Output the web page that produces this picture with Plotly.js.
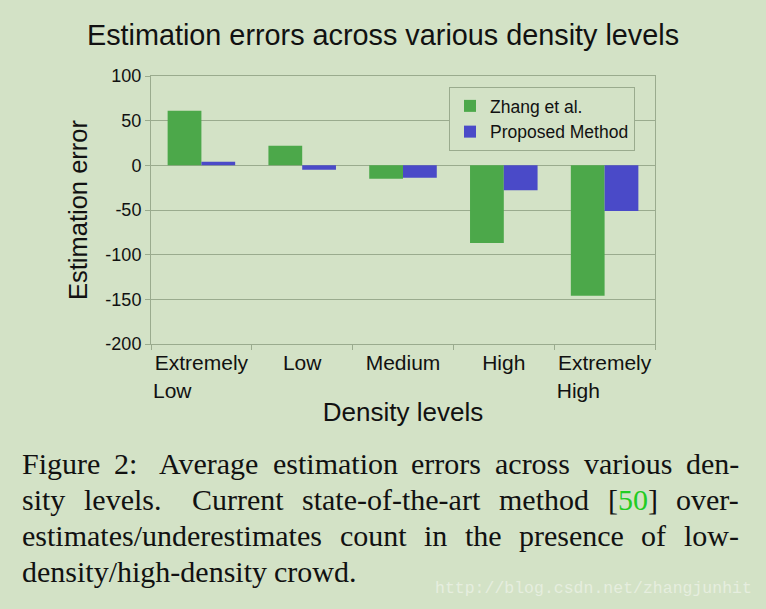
<!DOCTYPE html>
<html>
<head>
<meta charset="utf-8">
<script src="https://cdn.plot.ly/plotly-3.0.1.min.js"></script>
<style>
html,body{margin:0;padding:0;background:#d3e2c6;}
#chart{width:766px;height:609px;}
</style>
</head>
<body>
<div id="chart"></div>
<script>
const categories = ["Extremely<br>Low\u00a0\u00a0\u00a0\u00a0\u00a0\u00a0\u00a0\u00a0\u00a0\u00a0", "Low", "Medium", "High", "Extremely<br>High\u00a0\u00a0\u00a0\u00a0\u00a0\u00a0\u00a0\u00a0\u00a0"];
const seriesNames = ["Zhang et al.", "Proposed Method"];
const zhangValues = [61, 22, -15, -87, -146];
const proposedValues = [4, -5, -14, -28, -51];
const yTicks = [-200, -150, -100, -50, 0, 50, 100];
const captionLines = [
  ["Figure", "2:", "Average", "estimation", "errors", "across", "various", "den-"],
  ["sity", "levels.", "Current", "state-of-the-art", "method", "[50]", "over-"],
  ["estimates/underestimates", "count", "in", "the", "presence", "of", "low-"],
  ["density/high-density", "crowd."]
];
const captionJustify = [true, true, true, false];
const captionY = [463, 499, 535, 571];

const sans = "Liberation Sans, Arial, sans-serif";
const serif = "Liberation Serif, Times New Roman, serif";
const capSize = 30;
const grid = "#9aab8e";

const traces = [
  {type: "bar", name: seriesNames[0], x: categories, y: zhangValues, marker: {color: "#4ca84a", line: {width: 0}}},
  {type: "bar", name: seriesNames[1], x: categories, y: proposedValues, marker: {color: "#4a4ac8", line: {width: 0}}}
];

// layout helper: justify caption words between left and right margins
const ctx = document.createElement("canvas").getContext("2d");
ctx.font = capSize + "px 'Liberation Serif'";
const leftX = 20, rightX = 737;
const annotations = [];
captionLines.forEach((words, i) => {
  const widths = words.map(w => ctx.measureText(w).width);
  const total = widths.reduce((a, b) => a + b, 0);
  const weights = words.slice(0, -1).map(w => /[:.]$/.test(w) ? 1.6 : 1);
  const wsum = weights.reduce((a, b) => a + b, 0);
  const unit = captionJustify[i] ? (rightX - leftX - total) / wsum : capSize * 0.25;
  let x = leftX;
  words.forEach((w, j) => {
    const txt = w === "[50]" ? "[<span style='color:#22cc22'>50</span>]" : w;
    annotations.push({
      text: txt, xref: "paper", yref: "paper", showarrow: false,
      x: (x - 151) / (655 - 151),
      y: (609 - 265 - captionY[i]) / (609 - 76 - 265),
      xanchor: "left", yanchor: "middle",
      font: {family: serif, size: capSize, color: "#111"}
    });
    x += widths[j] + (j < weights.length ? unit * weights[j] : 0);
  });
});
annotations.push({
  text: "http://blog.csdn.net/zhangjunhit", xref: "paper", yref: "paper", showarrow: false,
  x: (754 - 151) / (655 - 151), y: (609 - 265 - 588) / (609 - 76 - 265),
  xanchor: "right", yanchor: "middle",
  font: {family: "Liberation Mono, DejaVu Sans Mono, monospace", size: 16.5, color: "#e6eedf"}
});

const layout = {
  width: 766, height: 609,
  paper_bgcolor: "#d3e2c6", plot_bgcolor: "#d3e2c6",
  margin: {l: 151, r: 111, t: 76, b: 265, pad: 0},
  title: {text: "Estimation errors across various density levels", x: 0.5, xanchor: "center", y: 1 - 35/609, yanchor: "middle",
          font: {family: sans, size: 28.8, color: "#111"}},
  barmode: "group", bargap: 0.33, bargroupgap: 0,
  xaxis: {
    type: "category", tickson: "boundaries", ticks: "outside", ticklen: 5, tickcolor: grid,
    tickangle: 0,
    showline: true, linecolor: grid, linewidth: 1, mirror: true, showgrid: false,
    tickfont: {family: sans, size: 21, color: "#111"},
    title: {text: "Density levels", font: {family: sans, size: 26, color: "#111"}, standoff: 2}
  },
  yaxis: {
    range: [-200, 100], tickvals: yTicks, ticktext: yTicks.map(String),
    ticks: "outside", ticklen: 5, tickcolor: grid,
    showline: true, linecolor: grid, linewidth: 1, mirror: true,
    showgrid: true, gridcolor: grid, gridwidth: 1, zeroline: false,
    tickfont: {family: sans, size: 18, color: "#111"},
    title: {text: "Estimation error", font: {family: sans, size: 25.5, color: "#111"}, standoff: 10}
  },
  legend: {
    x: (449 - 151) / 504, y: (344 - 87) / 268, xanchor: "left", yanchor: "top",
    bgcolor: "#d3e2c6", bordercolor: grid, borderwidth: 1,
    font: {family: sans, size: 17.5, color: "#111"},
    itemwidth: 30, tracegroupgap: 0
  },
  showlegend: true,
  annotations: annotations
};

Plotly.newPlot("chart", traces, layout, {displayModeBar: false, staticPlot: true});
</script>
</body>
</html>
